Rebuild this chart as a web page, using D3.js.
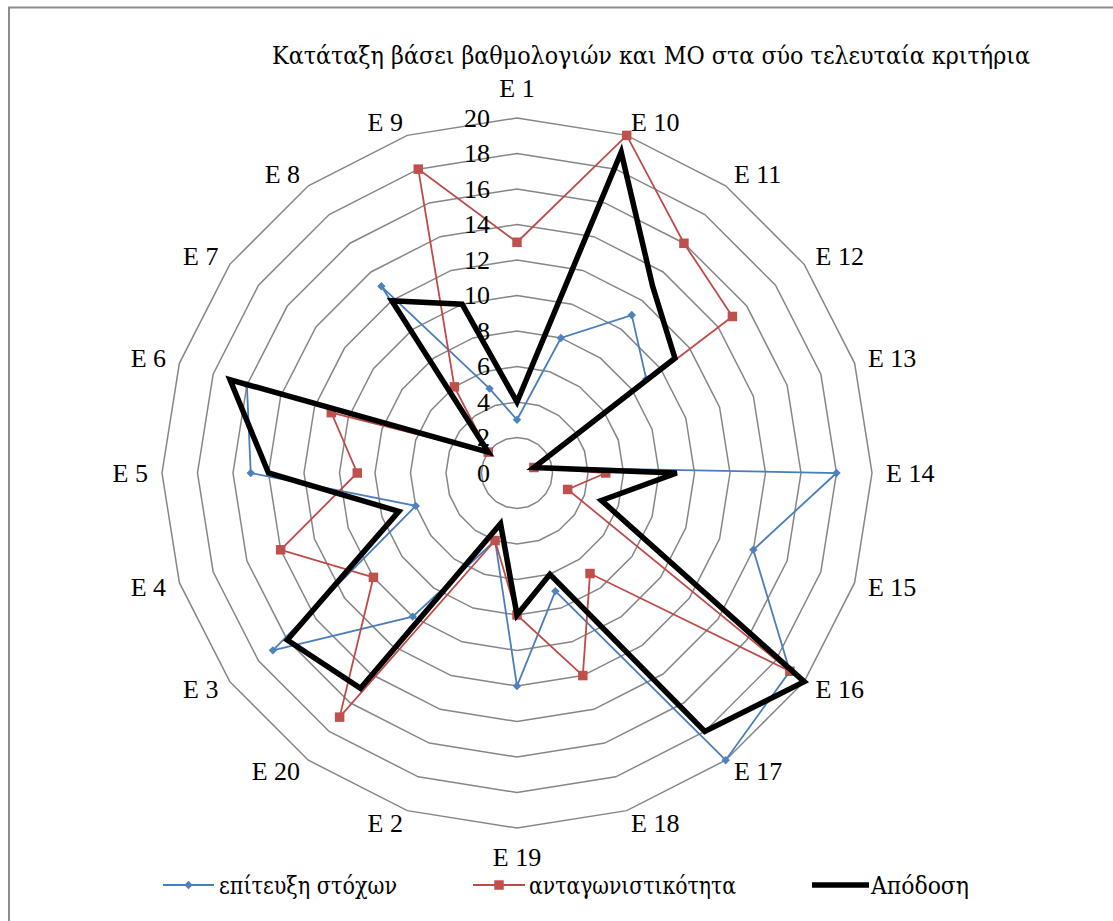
<!DOCTYPE html>
<html>
<head>
<meta charset="utf-8">
<script src="https://cdn.jsdelivr.net/npm/d3@7"></script>
<style>
  body { margin: 0; background: #fff; }
  text { font-family: "Liberation Serif", "Times New Roman", serif; fill: #000; }
  text.greek { font-family: "DejaVu Serif Condensed", "DejaVu Serif", "Liberation Serif", serif; }
</style>
</head>
<body>
<svg id="chart" width="1113" height="921"></svg>
<script>
// Criteria, in clockwise order starting from the top
const categories = ["E 1", "E 10", "E 11", "E 12", "E 13", "E 14", "E 15", "E 16", "E 17", "E 18",
                    "E 19", "E 2", "E 20", "E 3", "E 4", "E 5", "E 6", "E 7", "E 8", "E 9"];

// Rankings per criterion
const goalAchievement = [3, 8, 11, 9, 1, 18, 14, 19, 20, 7, 12, 4, 10, 17, 6, 15, 16, 2, 13, 5];
const competitiveness = [13, 20, 16, 15, 1, 5, 3, 19, 7, 12, 8, 4, 17, 10, 14, 9, 11, 2, 6, 18];
const performance     = [4, 19, 13, 11, 1, 9, 5, 20, 18, 6, 8, 3, 15, 16, 7, 14, 17, 2, 12, 10];

const seriesNames = ["επίτευξη στόχων", "ανταγωνιστικότητα", "Απόδοση"];
const radialTicks = [0, 2, 4, 6, 8, 10, 12, 14, 16, 18, 20];
const chartTitle = "Κατάταξη βάσει βαθμολογιών και ΜΟ στα σύο τελευταία κριτήρια";

const svg = d3.select("#chart");
const cx = 517, cy = 473, R = 355;

// Chart area frame
svg.append("rect")
  .attr("x", 9).attr("y", 7.5)
  .attr("width", 1140).attr("height", 960)
  .attr("fill", "none").attr("stroke", "#8c8c8c").attr("stroke-width", 2);

const r = d3.scaleLinear().domain([0, 20]).range([0, R]);
const angle = d3.scaleLinear().domain([0, categories.length]).range([0, 2 * Math.PI]);

const g = svg.append("g").attr("transform", `translate(${cx},${cy})`);

// Polygonal gridlines
const gridLine = d3.lineRadial().curve(d3.curveLinearClosed)
  .angle((d, i) => angle(i)).radius(d => r(d));
radialTicks.filter(t => t > 0).forEach(t => {
  g.append("path")
    .attr("d", gridLine(categories.map(() => t)))
    .attr("fill", "none").attr("stroke", "#868686").attr("stroke-width", 1.5);
});

// Series
const series = [
  { name: seriesNames[0], values: goalAchievement, color: "#4a7ebb", width: 1.8, marker: "diamond", fill: "#4f81bd" },
  { name: seriesNames[1], values: competitiveness, color: "#be4b48", width: 1.8, marker: "square", fill: "#c0504d" },
  { name: seriesNames[2], values: performance, color: "#000000", width: 5.5, marker: null }
];

const line = d3.lineRadial().curve(d3.curveLinearClosed)
  .angle((d, i) => angle(i)).radius(d => r(d));

const markerPath = {
  diamond: d3.symbol().type(d3.symbolDiamond2).size(45),
  square: d3.symbol().type(d3.symbolSquare).size(90)
};

series.forEach(s => {
  g.append("path")
    .attr("d", line(s.values))
    .attr("fill", "none").attr("stroke", s.color)
    .attr("stroke-width", s.width).attr("stroke-linejoin", "miter");
  if (s.marker) {
    g.selectAll(null).data(s.values).enter().append("path")
      .attr("d", markerPath[s.marker])
      .attr("transform", (d, i) => {
        const a = angle(i);
        return `translate(${r(d) * Math.sin(a)},${-r(d) * Math.cos(a)})`;
      })
      .attr("fill", s.fill);
  }
});

// Value labels along the first axis
g.selectAll(null).data(radialTicks).enter().append("text")
  .attr("x", -27).attr("y", d => -r(d))
  .attr("text-anchor", "end").attr("dominant-baseline", "central")
  .attr("font-size", 26)
  .text(d => d);

// Category labels
const labelR = 369;
g.selectAll(null).data(categories).enter().append("text")
  .each(function (d, i) {
    const a = angle(i), s = Math.sin(a), c = Math.cos(a);
    const t = d3.select(this);
    if (Math.abs(s) < 0.01) {
      t.attr("x", 0).attr("y", c > 0 ? -385 : 384).attr("text-anchor", "middle");
    } else {
      t.attr("x", labelR * s).attr("y", -labelR * c)
       .attr("text-anchor", s > 0 ? "start" : "end");
    }
  })
  .attr("dominant-baseline", "central")
  .attr("font-size", 26)
  .text(d => d);

// Title
svg.append("text")
  .attr("class", "greek")
  .attr("x", 272).attr("y", 55)
  .attr("dominant-baseline", "central")
  .attr("font-size", 25)
  .attr("textLength", 758).attr("lengthAdjust", "spacingAndGlyphs")
  .text(chartTitle);

// Legend
const legendY = 885;
const legendItems = [
  { x0: 163, x1: 214, tx: 219, w: 178 },
  { x0: 473, x1: 525, tx: 529, w: 207 },
  { x0: 812, x1: 869, tx: 871, w: 98 }
];
series.forEach((s, i) => {
  const it = legendItems[i];
  const lg = svg.append("g");
  lg.append("line")
    .attr("x1", it.x0).attr("x2", it.x1).attr("y1", legendY).attr("y2", legendY)
    .attr("stroke", s.color).attr("stroke-width", s.width);
  if (s.marker) {
    lg.append("path")
      .attr("d", markerPath[s.marker])
      .attr("transform", `translate(${(it.x0 + it.x1) / 2},${legendY})`)
      .attr("fill", s.fill);
  }
  lg.append("text")
    .attr("class", "greek")
    .attr("x", it.tx).attr("y", legendY)
    .attr("dominant-baseline", "central")
    .attr("font-size", 25)
    .attr("textLength", it.w).attr("lengthAdjust", "spacingAndGlyphs")
    .text(s.name);
});
</script>
</body>
</html>
